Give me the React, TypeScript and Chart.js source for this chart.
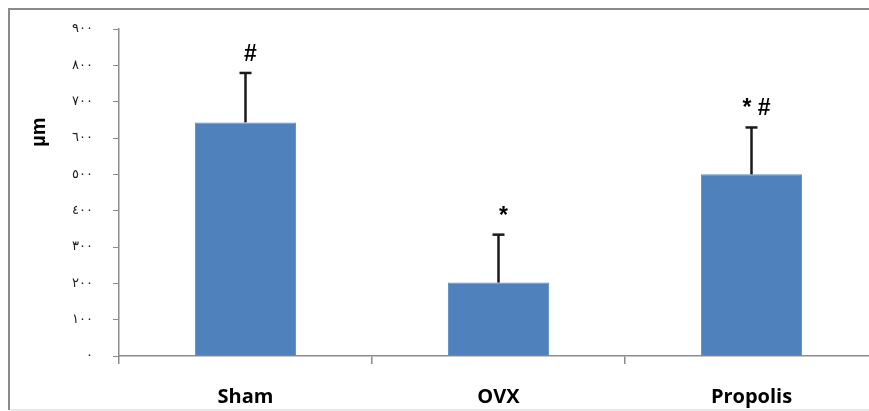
import React, { useEffect, useRef } from "react";
import { Chart, registerables } from "chart.js";

Chart.register(...registerables);

const categories = ["Sham", "OVX", "Propolis"];
const meanValues = [643, 202, 500];
const errorValues = [136, 132, 129];
const significanceLabels = ["#", "*", "* #"];
const yTickLabels = ["٠", "١٠٠", "٢٠٠", "٣٠٠", "٤٠٠", "٥٠٠", "٦٠٠", "٧٠٠", "٨٠٠", "٩٠٠"];
const yAxisTitle = "µm";

const framePlugin = {
  id: "frame",
  beforeDraw(chart: any) {
    const ctx = chart.ctx;
    ctx.save();
    ctx.fillStyle = "#fff";
    ctx.fillRect(0, 0, chart.width, chart.height);
    ctx.fillStyle = "#8a8a8a";
    ctx.fillRect(8, 8, 2, chart.height - 9);
    ctx.fillRect(8, 8, chart.width, 2);
    ctx.fillStyle = "#d4d4d4";
    ctx.fillRect(10, chart.height - 1.5, chart.width, 1);
    ctx.restore();
  },
};

const overlayPlugin = {
  id: "overlay",
  afterDatasetsDraw(chart: any) {
    const ctx = chart.ctx;
    const meta = chart.getDatasetMeta(0);
    const y = chart.scales.y;
    ctx.save();
    meta.data.forEach((bar: any, i: number) => {
      const x = bar.x;
      const yBar = y.getPixelForValue(meanValues[i]);
      const yTop = y.getPixelForValue(meanValues[i] + errorValues[i]);
      ctx.strokeStyle = "#1a1a1a";
      ctx.lineWidth = 2.5;
      ctx.beginPath();
      ctx.moveTo(x, yBar);
      ctx.lineTo(x, yTop);
      ctx.stroke();
      ctx.beginPath();
      ctx.moveTo(x - 6, yTop);
      ctx.lineTo(x + 6, yTop);
      ctx.stroke();
      ctx.fillStyle = "#000";
      ctx.font = "bold 23px 'Liberation Sans'";
      ctx.textAlign = "center";
      ctx.textBaseline = "alphabetic";
      ctx.fillText(significanceLabels[i], x + 5, yTop - 12);
    });
    const area = chart.chartArea;
    ctx.translate(39, area.top + 103);
    ctx.rotate(-Math.PI / 2);
    ctx.font = "bold 20px 'Liberation Sans'";
    ctx.textAlign = "center";
    ctx.textBaseline = "middle";
    ctx.fillStyle = "#000";
    ctx.fillText(yAxisTitle, 0, 0);
    ctx.restore();
  },
};

export default function App() {
  const canvasRef = useRef<HTMLCanvasElement | null>(null);

  useEffect(() => {
    document.documentElement.style.overflow = "hidden";
    document.body.style.overflow = "hidden";
    if (!canvasRef.current) return;
    const chart = new Chart(canvasRef.current, {
      type: "bar",
      data: {
        labels: categories,
        datasets: [
          {
            data: meanValues,
            backgroundColor: "#4F81BD",
            borderColor: "#5A8CC6",
            borderWidth: 1,
            barPercentage: 0.4,
            categoryPercentage: 1,
          },
        ],
      },
      options: {
        animation: false,
        responsive: false,
        maintainAspectRatio: false,
        layout: { padding: { top: 29, right: 22, left: 0, bottom: 0 } },
        plugins: {
          legend: { display: false },
          tooltip: { enabled: false },
        },
        scales: {
          x: {
            grid: {
              offset: true,
              drawOnChartArea: false,
              drawTicks: true,
              tickLength: 8,
              color: "#8c8c8c",
              lineWidth: 1.5,
            },
            border: { display: true, color: "#8c8c8c", width: 1.5 },
            ticks: {
              padding: 21,
              color: "#000",
              font: { family: "Open Sans", weight: "bold", size: 20 },
            },
            afterFit: (scale: any) => {
              scale.height = 55;
            },
          },
          y: {
            min: 0,
            max: 900,
            grid: {
              drawOnChartArea: false,
              drawTicks: true,
              tickLength: 6,
              color: "#8c8c8c",
            },
            border: { display: true, color: "#8c8c8c", width: 1.5 },
            ticks: {
              stepSize: 100,
              padding: 20,
              color: "#222",
              font: { family: "DejaVu Sans", size: 13 },
              callback: (_v: any, i: number) => yTickLabels[i],
            },
            afterFit: (scale: any) => {
              scale.width = 119;
            },
          },
        },
      },
      plugins: [framePlugin, overlayPlugin],
    });
    return () => chart.destroy();
  }, []);

  return (
    <div
      style={{
        position: "fixed",
        left: 0,
        top: 0,
        right: 0,
        bottom: 0,
        overflow: "hidden",
        background: "#fff",
      }}
    >
      <canvas
        ref={canvasRef}
        width={900}
        height={411}
        style={{ position: "absolute", left: 0, top: 0, display: "block" }}
      />
    </div>
  );
}
